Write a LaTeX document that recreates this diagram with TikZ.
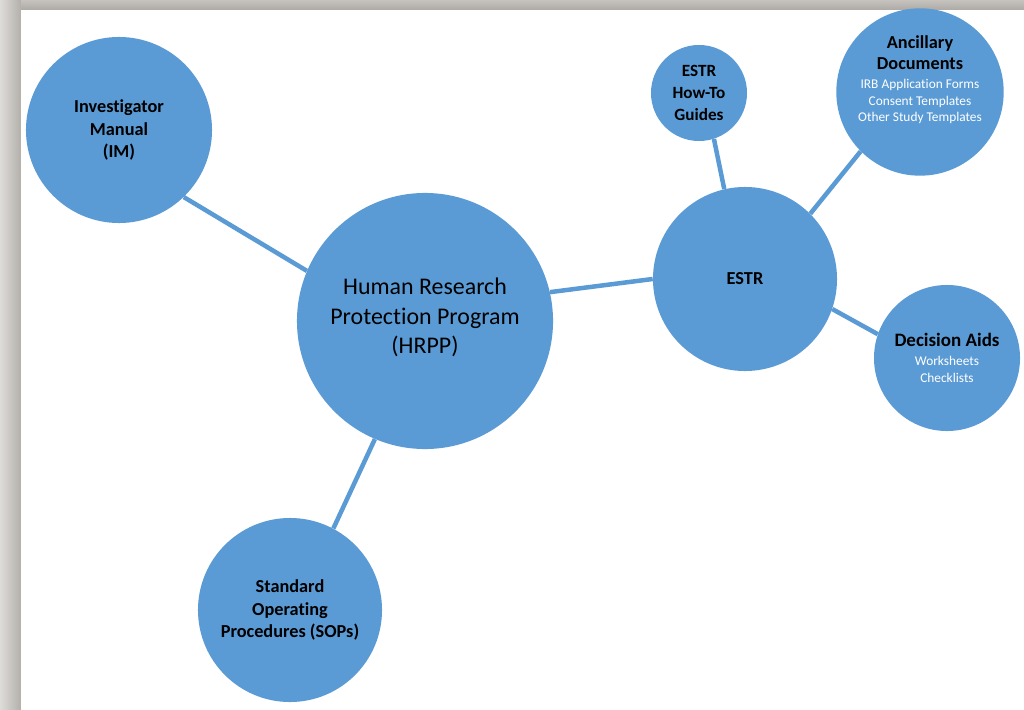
\documentclass[tikz,border=0pt]{standalone}
\usepackage{fontspec}
\setmainfont{Carlito}[Ligatures=NoCommon]
\usepackage{xcolor}
\usepackage{tikz}
\usetikzlibrary{positioning}

\definecolor{hrppblue}{HTML}{5B9BD5}
\definecolor{edgelight}{HTML}{DEDCD9}
\definecolor{edgedark}{HTML}{B3B0AB}
\definecolor{toplight}{HTML}{C6C3BE}
\definecolor{topdark}{HTML}{ADAAA5}
\newcommand{\smalltxt}[1]{{\mdseries\color{white}\fontsize{9.5}{12}\selectfont #1}}

\begin{document}
\begin{tikzpicture}[
    x=0.025cm, y=-0.025cm,
    bubble/.style={circle, fill=hrppblue, inner sep=0pt, align=center, text=black,
        font=\bfseries\fontsize{13}{16}\selectfont},
    link/.style={draw=hrppblue, line width=3.2pt}
]
\useasboundingbox (0,0) rectangle (1024,709);
\shade[left color=edgelight, right color=edgedark] (0,0) rectangle (21,709);
\shade[top color=toplight, bottom color=topdark] (21,0) rectangle (1024,10);
\fill[white] (21,10) rectangle (1024,709);

\node[bubble, minimum size=4.65cm] (im) at (119,130) {Investigator\\Manual\\(IM)};
\node[bubble, minimum size=6.4cm, text depth=0.25cm, font=\mdseries\fontsize{17}{21}\selectfont] (hrpp) at (425,321)
    {Human Research\\Protection Program\\(HRPP)};
\node[bubble, minimum size=4.6cm] (estr) at (745,279) {ESTR};
\node[bubble, minimum size=2.4cm, font=\bfseries\fontsize{12.2}{15.5}\selectfont] (howto) at (699,93)
    {ESTR\\How-To\\Guides};
\node[bubble, minimum size=3.95cm, text depth=0.67cm, font=\bfseries\fontsize{13}{15}\selectfont] (anc) at (920,92)
    {Ancillary\\Documents\\[-1.5pt]\smalltxt{IRB Application Forms}\\[-3pt]\smalltxt{Consent Templates}\\[-3pt]\smalltxt{Other Study Templates}};
\node[bubble, minimum size=3.65cm, font=\bfseries\fontsize{13.5}{16}\selectfont] (aids) at (947,358)
    {Decision Aids\\[-2.5pt]\smalltxt{Worksheets}\\[-4pt]\smalltxt{Checklists}};
\node[bubble, minimum size=4.6cm] (sop) at (290,610) {Standard\\Operating\\Procedures (SOPs)};

\draw[link] (hrpp.157) -- (im.-46);
\draw[link] (hrpp.13) -- (estr.180);
\draw[link] (hrpp.-113) -- (sop.62);
\draw[link] (estr.103) -- (howto.-72);
\draw[link] (estr.45) -- (anc.-135);
\draw[link] (estr.-19) -- (aids.161);
\end{tikzpicture}
\end{document}
